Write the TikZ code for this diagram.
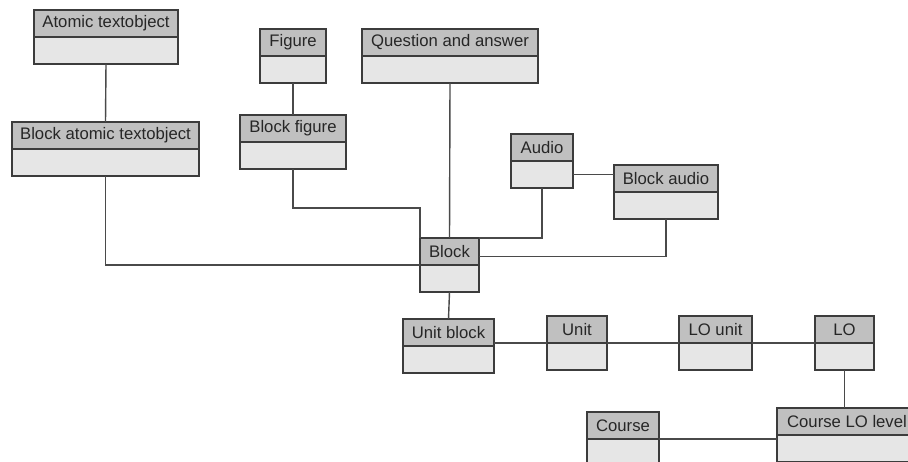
\documentclass[tikz,border=0pt]{standalone}
\usepackage{fontspec}
\setmainfont{Liberation Sans}
\usetikzlibrary{positioning}
\definecolor{hdrgray}{HTML}{C0C0C0}
\definecolor{bodygray}{HTML}{E6E6E6}
\definecolor{edgegray}{HTML}{3C3C3C}
\definecolor{linkgray}{HTML}{4A4A4A}

\begin{document}
\begin{tikzpicture}[
  head/.style={draw=edgegray,fill=hdrgray,line width=0.8pt,minimum height=0.54cm,
    inner sep=0pt,outer sep=0pt,anchor=north west,text=black!85,font=\fontsize{9.5}{11}\selectfont},
  body/.style={draw=edgegray,fill=bodygray,line width=0.8pt,minimum height=0.54cm,
    inner sep=0pt,outer sep=0pt},
  link/.style={draw=linkgray,line width=0.8pt}]

\useasboundingbox (0,0) rectangle (18.16,9.24);
\clip (0,0) rectangle (18.16,9.24);

% ---------------- upper classes ----------------
\node[head,minimum width=2.88cm] (atom) at (0.68,9.04) {Atomic textobject};
\node[body,minimum width=2.88cm,below=0pt of atom] (atom-b) {};

\node[head,minimum width=3.74cm] (batom) at (0.24,6.80) {Block atomic textobject};
\node[body,minimum width=3.74cm,below=0pt of batom] (batom-b) {};

\node[head,minimum width=1.32cm] (fig) at (5.20,8.66) {Figure};
\node[body,minimum width=1.32cm,below=0pt of fig] (fig-b) {};

\node[head,minimum width=2.12cm] (bfig) at (4.80,6.94) {Block figure};
\node[body,minimum width=2.12cm,below=0pt of bfig] (bfig-b) {};

\node[head,minimum width=3.52cm] (qa) at (7.24,8.66) {Question and answer};
\node[body,minimum width=3.52cm,below=0pt of qa] (qa-b) {};

\node[head,minimum width=1.24cm] (audio) at (10.22,6.56) {Audio};
\node[body,minimum width=1.24cm,below=0pt of audio] (audio-b) {};

\node[head,minimum width=2.08cm] (baudio) at (12.28,5.94) {Block audio};
\node[body,minimum width=2.08cm,below=0pt of baudio] (baudio-b) {};

\node[head,minimum width=1.18cm] (block) at (8.40,4.48) {Block};
\node[body,minimum width=1.18cm,below=0pt of block] (block-b) {};

% ---------------- lower classes ----------------
\node[head,minimum width=1.82cm] (ublock) at (8.06,2.86) {Unit block};
\node[body,minimum width=1.82cm,below=0pt of ublock] (ublock-b) {};

\node[head,minimum width=1.20cm] (unit) at (10.94,2.92) {Unit};
\node[body,minimum width=1.20cm,below=0pt of unit] (unit-b) {};

\node[head,minimum width=1.46cm] (lounit) at (13.58,2.92) {LO unit};
\node[body,minimum width=1.46cm,below=0pt of lounit] (lounit-b) {};

\node[head,minimum width=1.18cm] (lo) at (16.30,2.92) {LO};
\node[body,minimum width=1.18cm,below=0pt of lo] (lo-b) {};

\node[head,minimum width=1.44cm] (course) at (11.74,1.00) {Course};
\node[body,minimum width=1.44cm,below=0pt of course] (course-b) {};

\node[head,minimum width=2.80cm] (clo) at (15.54,1.08) {Course LO level};
\node[body,minimum width=2.80cm,below=0pt of clo] (clo-b) {};

% ---------------- links ----------------
\draw[link] (atom-b.south) -- (batom.north);
\draw[link] (fig-b.south) -- (bfig.north);
\draw[link] (batom-b.south) |- (block.south west);
\draw[link] (bfig-b.south) -- ++(0,-0.78) -| (block.north west);
\draw[link] (qa-b.south) -- (block.north);
\draw[link] (audio-b.south) |- (block.north east);
\draw[link] (audio-b.east) -- (audio-b.east -| baudio.west);
\draw[link] (baudio-b.south) |- ([yshift=-3pt]block.east);
\draw[link] (block-b.south) -- (ublock.north);

\draw[link] (unit.south west -| ublock.east) -- (unit.south west);
\draw[link] (unit.south east) -- (lounit.south west);
\draw[link] (lounit.south east) -- (lo.south west);
\draw[link] (lo-b.south) -- (lo-b.south |- clo.north);
\draw[link] (course.south east) -- (course.south east -| clo.west);

\end{tikzpicture}
\end{document}
